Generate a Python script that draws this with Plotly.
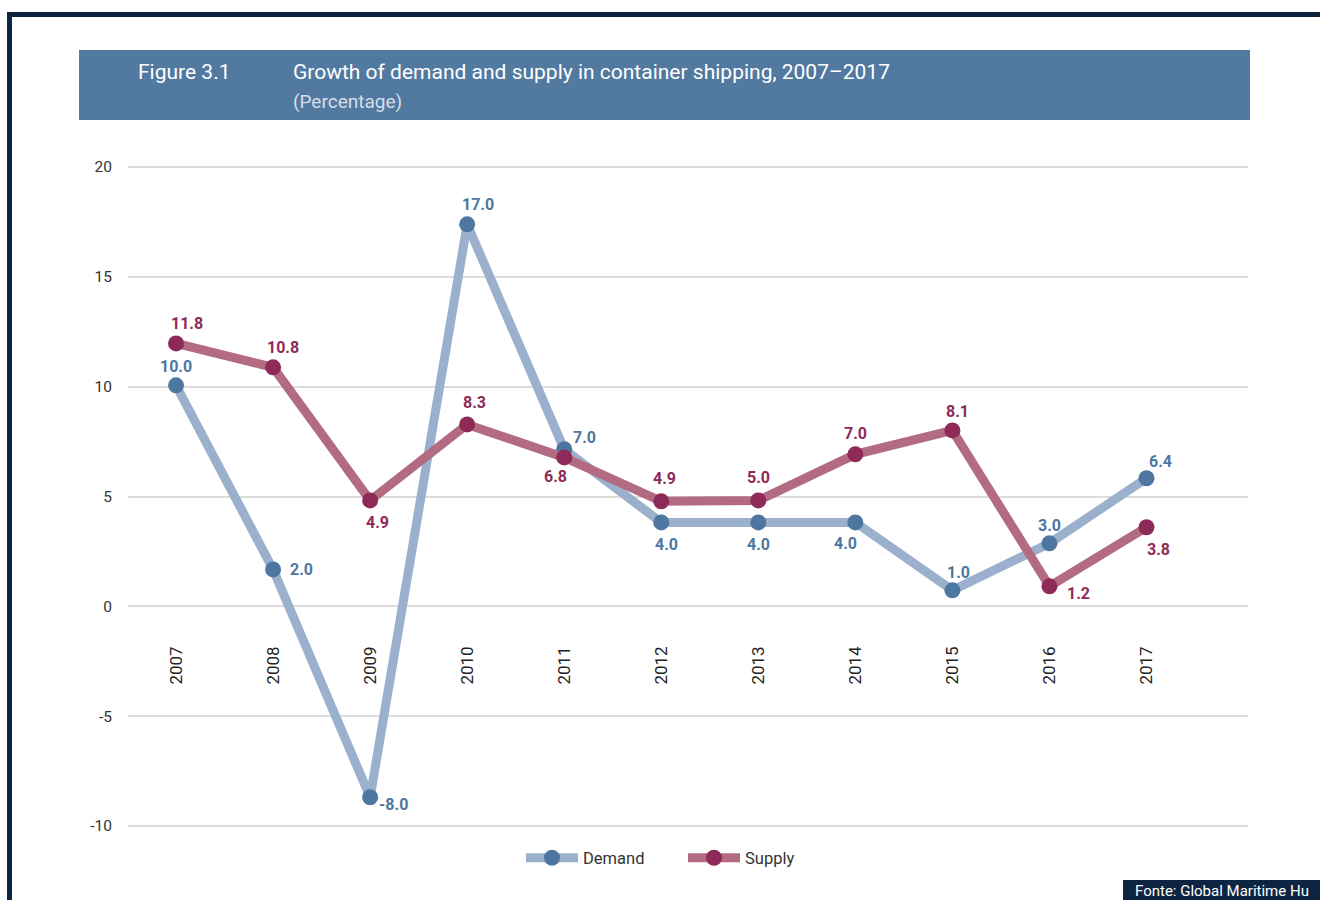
import plotly.graph_objects as go

# ---------------- data ----------------
years = ["2007", "2008", "2009", "2010", "2011", "2012", "2013", "2014", "2015", "2016", "2017"]
demand_values = [10.06, 1.68, -8.69, 17.39, 7.15, 3.82, 3.82, 3.82, 0.73, 2.87, 5.83]
demand_labels = ["10.0", "2.0", "-8.0", "17.0", "7.0", "4.0", "4.0", "4.0", "1.0", "3.0", "6.4"]
supply_values = [11.97, 10.88, 4.82, 8.28, 6.78, 4.78, 4.82, 6.92, 8.01, 0.91, 3.60]
supply_labels = ["11.8", "10.8", "4.9", "8.3", "6.8", "4.9", "5.0", "7.0", "8.1", "1.2", "3.8"]
y_ticks = [-10, -5, 0, 5, 10, 15, 20]
y_tick_labels = ["-10", "-5", "0", "5", "10", "15", "20"]

# ---------------- styles / positions ----------------
W, H = 1320, 900
ML, MR, MT, MB = 128, 72, 160, 60
PW, PH = W - ML - MR, H - MT - MB
FONT = "Roboto, Liberation Sans, sans-serif"

DEM_LINE, DEM_MARK = "#9bb0cc", "#4d77a0"
SUP_LINE, SUP_MARK = "#b26b80", "#8e2a57"

# label offsets in pixels (xshift, yshift)
demand_offsets = [(0, 19), (28, 0), (23, -7), (11, 20), (20, 12), (5, -22),
                  (0, -22), (-10, -21), (6, 18), (0, 18), (14, 17)]
supply_offsets = [(11, 20), (10, 20), (7, -22), (7, 22), (-9, -19), (3, 23),
                  (0, 23), (0, 21), (5, 19), (29, -7), (12, -22)]


def px_x(px):
    return (px - ML) / PW


def px_y(py):
    return (H - MB - py) / PH


xpos = list(range(len(years)))

fig = go.Figure()
fig.add_trace(go.Scatter(
    x=xpos, y=demand_values, name="Demand", mode="lines+markers",
    line=dict(color=DEM_LINE, width=9),
    marker=dict(color=DEM_MARK, size=16),
))
fig.add_trace(go.Scatter(
    x=xpos, y=supply_values, name="Supply", mode="lines+markers",
    line=dict(color=SUP_LINE, width=9),
    marker=dict(color=SUP_MARK, size=16),
))

annotations = []
for i, v, lab, (dx, dy) in zip(xpos, demand_values, demand_labels, demand_offsets):
    annotations.append(dict(x=i, y=v, xref="x", yref="y", text="<b>%s</b>" % lab,
                            showarrow=False, xshift=dx, yshift=dy,
                            font=dict(family=FONT, size=16, color=DEM_MARK)))
for i, v, lab, (dx, dy) in zip(xpos, supply_values, supply_labels, supply_offsets):
    annotations.append(dict(x=i, y=v, xref="x", yref="y", text="<b>%s</b>" % lab,
                            showarrow=False, xshift=dx, yshift=dy,
                            font=dict(family=FONT, size=16, color=SUP_MARK)))

# header texts
annotations += [
    dict(xref="paper", yref="paper", x=px_x(136), y=px_y(72), xanchor="left", yanchor="middle",
         text="Figure 3.1", showarrow=False, font=dict(family=FONT, size=21, color="white")),
    dict(xref="paper", yref="paper", x=px_x(291), y=px_y(72), xanchor="left", yanchor="middle",
         text="Growth of demand and supply in container shipping, 2007–2017", showarrow=False,
         font=dict(family=FONT, size=21, color="white")),
    dict(xref="paper", yref="paper", x=px_x(291), y=px_y(101), xanchor="left", yanchor="middle",
         text="(Percentage)", showarrow=False, font=dict(family=FONT, size=19, color="#d6dee9")),
    dict(xref="paper", yref="paper", x=px_x(1133), y=px_y(891), xanchor="left", yanchor="middle",
         text="Fonte: Global Maritime Hu", showarrow=False,
         font=dict(family=FONT, size=15, color="white")),
]

NAVY = "#0d2542"
shapes = [
    dict(type="rect", xref="paper", yref="paper", x0=px_x(79), x1=px_x(1250),
         y0=px_y(120), y1=px_y(50), fillcolor="#52799f", line=dict(width=0), layer="below"),
    dict(type="rect", xref="paper", yref="paper", x0=px_x(7), x1=px_x(1325),
         y0=px_y(17), y1=px_y(12), fillcolor=NAVY, line=dict(width=0)),
    dict(type="rect", xref="paper", yref="paper", x0=px_x(7), x1=px_x(12),
         y0=px_y(905), y1=px_y(12), fillcolor=NAVY, line=dict(width=0)),
    dict(type="rect", xref="paper", yref="paper", x0=px_x(1123), x1=px_x(1325),
         y0=px_y(905), y1=px_y(880), fillcolor=NAVY, line=dict(width=0)),
]

y_min = -10 - (H - MB - 826) / 21.97
y_max = 20 + (167 - MT) / 21.97

fig.update_layout(
    width=W, height=H,
    margin=dict(l=ML, r=MR, t=MT, b=MB),
    paper_bgcolor="white", plot_bgcolor="white",
    font=dict(family=FONT, color="#333333"),
    showlegend=True,
    legend=dict(orientation="h", x=px_x(521), xanchor="left", y=px_y(858), yanchor="middle",
                font=dict(family=FONT, size=16.5, color="#333333"),
                itemwidth=52, entrywidth=95),
    xaxis=dict(
        range=[-0.495, 11.046], tickvals=xpos, ticktext=years,
        anchor="free", position=px_y(606),
        showgrid=False, showline=False, zeroline=False, ticks="",
        tickangle=-90, ticklabelstandoff=36,
        tickfont=dict(family=FONT, size=17, color="#222222"),
    ),
    yaxis=dict(
        range=[y_min, y_max], tickvals=y_ticks, ticktext=y_tick_labels,
        showgrid=True, gridcolor="#dcdcdc", gridwidth=2,
        zeroline=False, showline=False, ticks="",
        ticklabelstandoff=15,
        tickfont=dict(family=FONT, size=15.5, color="#333333"),
    ),
    annotations=annotations,
    shapes=shapes,
)

fig.write_html("out.html", config={"displayModeBar": False},
               post_script="document.body.style.margin='0';")
